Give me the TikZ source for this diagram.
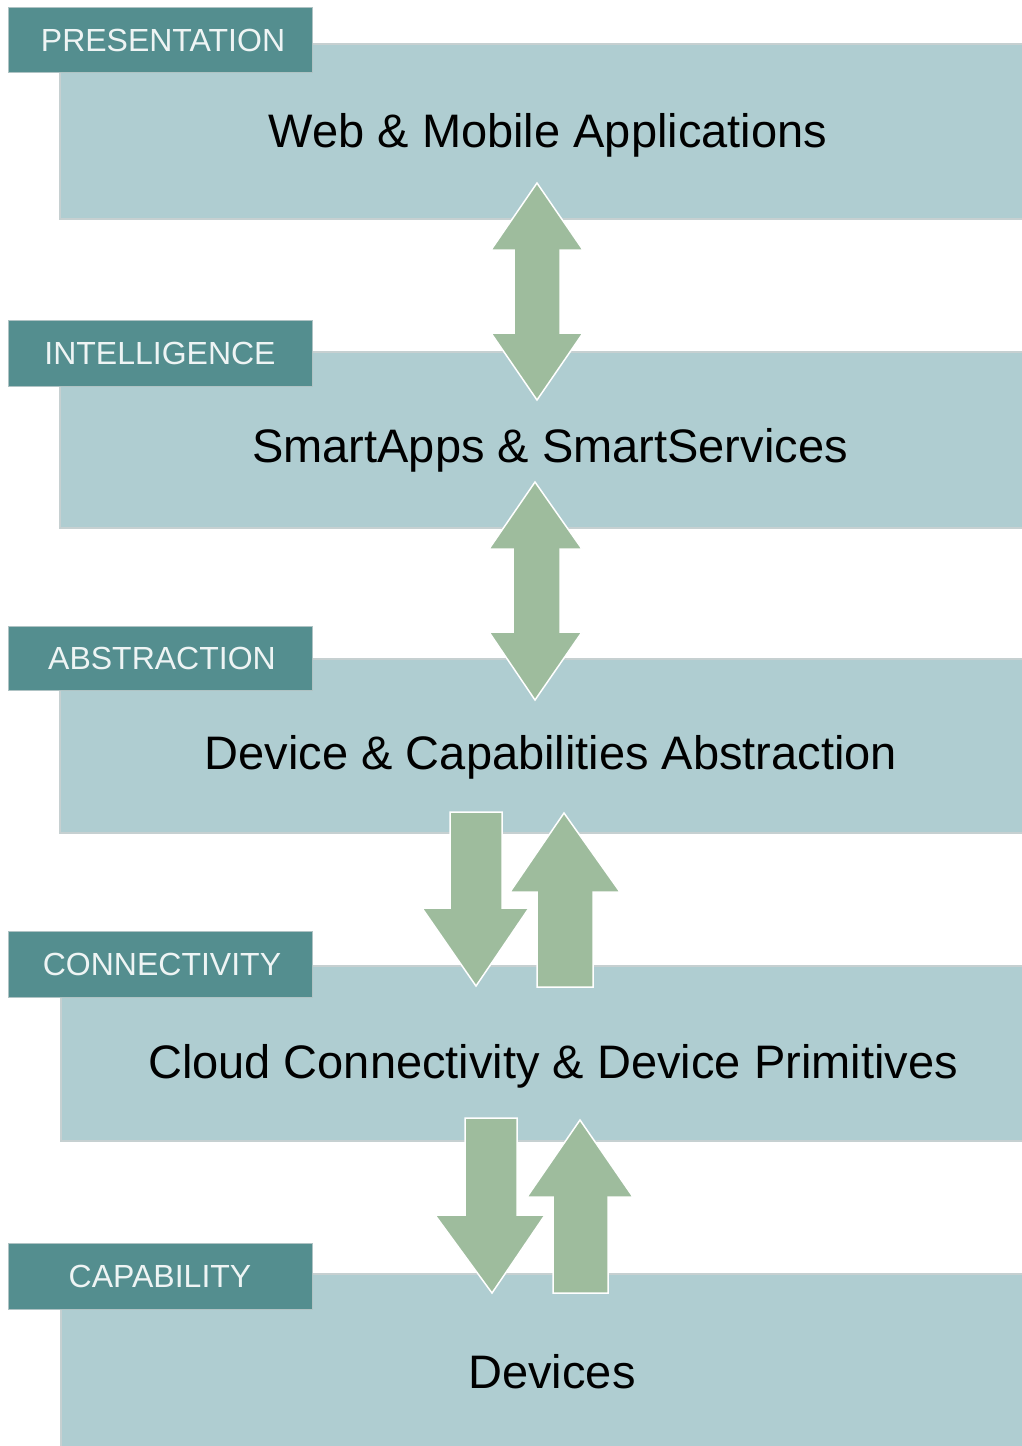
\documentclass[tikz,border=0pt]{standalone}
\usepackage{fontspec}
\setmainfont{Liberation Sans}
\definecolor{layerfill}{HTML}{AFCDD1}
\definecolor{layeredge}{HTML}{C6D0D1}
\definecolor{tagfill}{HTML}{548E8F}
\definecolor{tagtext}{HTML}{EEF4F4}
\definecolor{arrowfill}{HTML}{9EBC9D}
\begin{document}
\begin{tikzpicture}[x=1pt,y=-1pt,
  layerbox/.style={fill=layerfill,draw=layeredge,line width=1.5pt},
  tagbox/.style={fill=tagfill,draw=layeredge!80!tagfill,line width=1pt},
  tagtxt/.style={text=tagtext,font=\fontsize{32}{35}\selectfont,inner sep=0pt},
  maintxt/.style={text=black,font=\fontsize{47}{51}\selectfont,inner sep=0pt},
  blockarrow/.style={fill=arrowfill,draw=white,line width=1.5pt,line join=miter}]
\useasboundingbox (0,0) rectangle (1021,1446);
\fill[white] (0,0) rectangle (1021,1446);
% layer boxes
\path[layerbox] (60,44) rectangle (1023,219);
\path[layerbox] (60,352) rectangle (1023,528);
\path[layerbox] (60,659) rectangle (1023,833);
\path[layerbox] (61,966) rectangle (1023,1141);
\path[layerbox] (61,1274) rectangle (1023,1448);
% tags
\path[tagbox] (8,7) rectangle (312,72);
\path[tagbox] (8,320) rectangle (312,386);
\path[tagbox] (8,626) rectangle (312,690);
\path[tagbox] (8,931) rectangle (312,997);
\path[tagbox] (8,1243) rectangle (312,1309);
\node[tagtxt] (t1) at (163,40) {PRESENTATION};
\node[tagtxt] (t2) at (160,353.5) {INTELLIGENCE};
\node[tagtxt] (t3) at (162,658.5) {ABSTRACTION};
\node[tagtxt] (t4) at (162,964.5) {CONNECTIVITY};
\node[tagtxt] (t5) at (160,1276.5) {CAPABILITY};
% main texts
\node[maintxt] (m1) at (548,135) {Web \& Mobile Applications};
\node[maintxt] (m2) at (550,450) {SmartApps \& SmartServices};
\node[maintxt] (m3) at (551,757) {Device \& Capabilities Abstraction};
\node[maintxt] (m4) at (553,1066) {Cloud Connectivity \& Device Primitives};
\node[maintxt] (m5) at (552,1372) {Devices};
% arrows
\path[blockarrow] (537,183) -- (583,250) -- (560,250) -- (560,333) -- (583,333) -- (537,400) -- (491,333) -- (514,333) -- (514,250) -- (491,250) -- cycle;
\path[blockarrow] (535,482) -- (582,549) -- (560,549) -- (560,632) -- (582,632) -- (535,700) -- (489,632) -- (513,632) -- (513,549) -- (489,549) -- cycle;
\path[blockarrow] (450,812) -- (502,812) -- (502,908) -- (529,908) -- (476,986) -- (422,908) -- (450,908) -- cycle;
\path[blockarrow] (564,813) -- (620,892) -- (593,892) -- (593,987) -- (537,987) -- (537,892) -- (510,892) -- cycle;
\path[blockarrow] (465,1118) -- (517,1118) -- (517,1215) -- (545,1215) -- (492,1293) -- (435,1215) -- (465,1215) -- cycle;
\path[blockarrow] (580,1120) -- (633,1197) -- (608,1197) -- (608,1293) -- (553,1293) -- (553,1197) -- (527,1197) -- cycle;
\end{tikzpicture}
\end{document}
